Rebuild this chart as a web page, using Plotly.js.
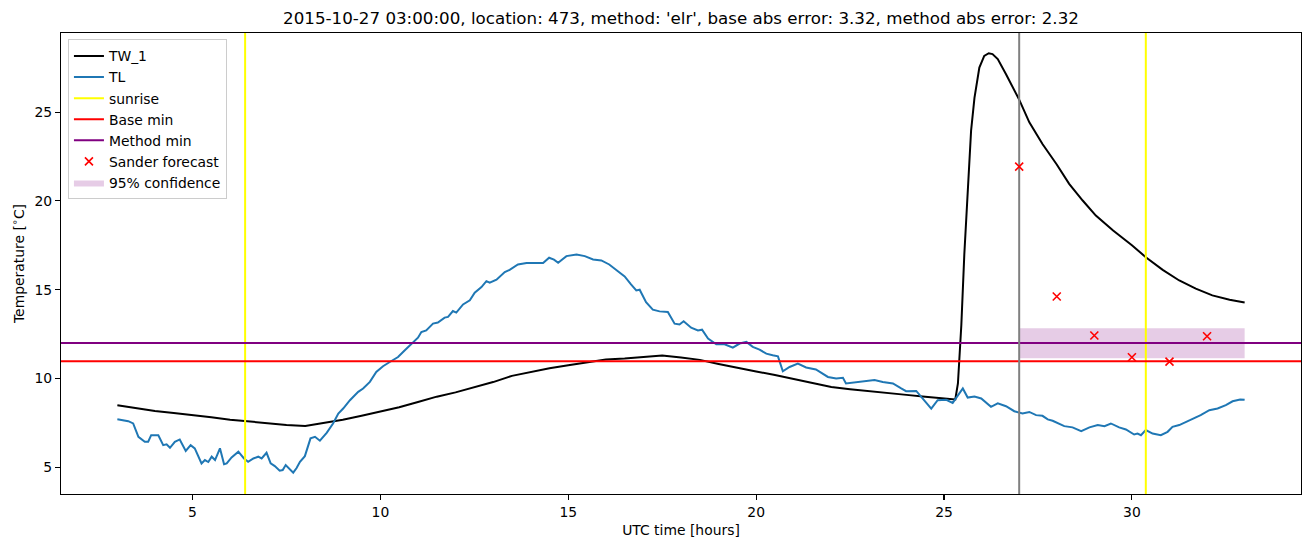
<!DOCTYPE html>
<html>
<head>
<meta charset="utf-8">
<script src="https://cdn.plot.ly/plotly-3.0.1.min.js"></script>
<style>html,body{margin:0;padding:0;background:#fff;}#chart{width:1310px;height:547px;}</style>
</head>
<body>
<div id="chart"></div>
<script>
// ---- data ----
const tw1Hours = [3.0,3.5,4.0,4.5,5.0,5.5,6.0,6.5,7.0,7.5,8.0,8.5,9.0,9.5,10.0,10.5,11.0,11.5,12.0,12.5,13.0,13.5,14.0,14.5,15.0,15.5,16.0,16.5,17.0,17.5,18.0,18.5,19.0,19.5,20.0,20.5,21.0,21.5,22.0,22.5,23.0,23.5,24.0,24.5,25.0,25.3,25.37,25.41,25.46,25.54,25.63,25.72,25.81,25.94,26.07,26.19,26.29,26.43,26.65,27.0,27.27,27.62,28.0,28.33,28.69,29.04,29.5,30.0,30.37,30.82,31.26,31.7,32.14,32.6,33.0];
const tw1Values = [8.5,8.33,8.17,8.06,7.95,7.82,7.68,7.58,7.45,7.39,7.33,7.5,7.68,7.9,8.13,8.38,8.68,8.98,9.22,9.5,9.8,10.15,10.38,10.58,10.75,10.93,11.07,11.13,11.22,11.3,11.18,11.05,10.82,10.63,10.4,10.2,9.98,9.75,9.52,9.4,9.28,9.18,9.08,8.97,8.88,8.82,9.72,11.0,13.0,17.0,20.8,23.95,25.8,27.5,28.16,28.31,28.26,27.98,27.13,25.7,24.42,23.2,22.05,20.96,20.02,19.17,18.33,17.5,16.83,16.12,15.52,15.06,14.68,14.44,14.28];

const tlHours = [3.0,3.29,3.42,3.56,3.73,3.82,3.9,4.09,4.22,4.31,4.4,4.53,4.66,4.82,4.95,5.06,5.24,5.33,5.42,5.51,5.6,5.73,5.84,5.91,6.04,6.22,6.37,6.48,6.62,6.75,6.84,6.97,7.08,7.19,7.32,7.4,7.48,7.59,7.68,7.77,7.86,7.99,8.14,8.26,8.39,8.57,8.74,8.88,9.01,9.19,9.41,9.54,9.72,9.89,10.07,10.25,10.47,10.65,10.83,11.0,11.09,11.22,11.4,11.53,11.71,11.8,11.93,12.02,12.2,12.38,12.51,12.69,12.82,12.91,13.09,13.31,13.44,13.66,13.89,14.11,14.33,14.49,14.62,14.73,14.95,15.22,15.44,15.66,15.88,16.09,16.32,16.5,16.67,16.81,16.9,17.07,17.25,17.43,17.65,17.83,17.96,18.07,18.27,18.45,18.56,18.72,18.94,19.16,19.38,19.56,19.74,19.91,20.09,20.27,20.44,20.58,20.71,20.89,21.11,21.33,21.59,21.77,21.91,22.13,22.31,22.39,22.57,22.84,23.15,23.37,23.64,23.86,23.99,24.26,24.43,24.66,24.83,25.06,25.23,25.5,25.63,25.81,25.99,26.25,26.43,26.65,26.87,27.09,27.27,27.45,27.62,27.76,27.89,28.07,28.2,28.42,28.65,28.87,29.09,29.27,29.44,29.66,29.84,30.06,30.15,30.24,30.37,30.55,30.77,30.95,31.08,31.26,31.44,31.62,31.83,32.06,32.28,32.5,32.68,32.88,33.0];
const tlValues = [7.71,7.6,7.47,6.72,6.44,6.44,6.81,6.81,6.25,6.3,6.1,6.44,6.57,5.92,6.25,6.07,5.22,5.41,5.3,5.6,5.41,6.07,5.18,5.22,5.56,5.88,5.5,5.31,5.5,5.6,5.5,5.82,5.22,5.07,4.81,4.85,5.13,4.89,4.7,4.96,5.31,5.63,6.63,6.72,6.5,6.94,7.47,8.03,8.31,8.78,9.25,9.44,9.81,10.37,10.69,10.93,11.21,11.59,11.97,12.3,12.62,12.71,13.09,13.15,13.43,13.47,13.8,13.71,14.17,14.4,14.83,15.15,15.48,15.39,15.56,15.99,16.12,16.42,16.5,16.5,16.5,16.8,16.69,16.52,16.89,16.98,16.89,16.7,16.65,16.42,16.05,15.75,15.3,14.96,15.0,14.3,13.88,13.78,13.75,13.09,13.04,13.22,12.86,12.71,12.75,12.25,11.93,11.93,11.74,11.97,12.06,11.78,11.63,11.4,11.31,11.25,10.41,10.65,10.84,10.62,10.51,10.28,10.09,10.0,10.04,9.72,9.76,9.81,9.91,9.81,9.72,9.44,9.29,9.3,8.88,8.31,8.78,8.8,8.63,9.44,8.93,8.99,8.88,8.41,8.6,8.44,8.16,8.03,8.12,7.94,7.9,7.7,7.62,7.47,7.32,7.25,7.04,7.25,7.38,7.32,7.47,7.25,7.13,6.85,6.9,6.81,7.1,6.9,6.81,7.0,7.28,7.38,7.56,7.71,7.94,8.22,8.31,8.5,8.72,8.82,8.8];

const sunriseHours = [6.4, 30.37];
const forecastHour = 27.0;
const baseMin = 10.97;
const methodMin = 12.0;
const sanderHours = [27, 28, 29, 30, 31, 32];
const sanderValues = [21.93, 14.62, 12.42, 11.2, 10.95, 12.38];
const confHours = [27, 33];
const confLower = 11.14;
const confUpper = 12.83;

const xTicks = [5, 10, 15, 20, 25, 30];
const yTicks = [5, 10, 15, 20, 25];
const titleText = "2015-10-27 03:00:00, location: 473, method: 'elr', base abs error: 3.32, method abs error: 2.32";

// ---- build ----
const xRange = [1.5, 34.5];
const yRange = [3.5, 29.45];

function vlines(xs) {
  const x = [], y = [];
  xs.forEach((v, i) => { if (i) { x.push(null); y.push(null); } x.push(v, v); y.push(yRange[0], yRange[1]); });
  return {x, y};
}
const sr = vlines(sunriseHours);
const fc = vlines([forecastHour]);

const traces = [
  {x: [confHours[0], confHours[1], confHours[1], confHours[0], confHours[0]],
   y: [confLower, confLower, confUpper, confUpper, confLower],
   type: 'scatter', mode: 'lines', fill: 'toself', fillcolor: 'rgba(128,0,128,0.2)',
   line: {width: 0, color: 'rgba(128,0,128,0)'}, name: '95% confidence', legendrank: 7},
  {x: tw1Hours, y: tw1Values, type: 'scatter', mode: 'lines', name: 'TW_1',
   line: {color: '#000000', width: 2}, legendrank: 1},
  {x: tlHours, y: tlValues, type: 'scatter', mode: 'lines', name: 'TL',
   line: {color: '#1f77b4', width: 2}, legendrank: 2},
  {x: sr.x, y: sr.y, type: 'scatter', mode: 'lines', name: 'sunrise',
   line: {color: '#ffff00', width: 2}, legendrank: 3},
  {x: xRange, y: [baseMin, baseMin], type: 'scatter', mode: 'lines', name: 'Base min',
   line: {color: '#ff0000', width: 2}, legendrank: 4},
  {x: xRange, y: [methodMin, methodMin], type: 'scatter', mode: 'lines', name: 'Method min',
   line: {color: '#800080', width: 2}, legendrank: 5},
  {x: fc.x, y: fc.y, type: 'scatter', mode: 'lines', showlegend: false,
   line: {color: '#808080', width: 2}},
  {x: sanderHours, y: sanderValues, type: 'scatter', mode: 'markers', name: 'Sander forecast',
   marker: {symbol: 'x-thin', size: 8, color: '#ff0000', line: {color: '#ff0000', width: 1.6}}, legendrank: 6}
];

const font = {family: 'DejaVu Sans', size: 13.9, color: '#000'};
const layout = {
  width: 1310, height: 547,
  margin: {l: 61, r: 9, t: 33, b: 53, pad: 0},
  paper_bgcolor: '#fff', plot_bgcolor: '#fff',
  font: font,
  showlegend: true,
  title: {text: titleText, font: {family: 'DejaVu Sans', size: 16.7, color: '#000'},
          x: 0.5, xref: 'paper', xanchor: 'center', y: 1 - 18/547, yref: 'container', yanchor: 'middle'},
  xaxis: {range: xRange, tickvals: xTicks, ticktext: xTicks.map(String), ticks: 'outside', ticklen: 5,
          tickwidth: 1.1, tickcolor: '#000', showline: true, mirror: true, linecolor: '#000', linewidth: 1.1,
          showgrid: false, zeroline: false, tickfont: font,
          title: {text: 'UTC time [hours]', font: font, standoff: 6}},
  yaxis: {range: yRange, tickvals: yTicks, ticktext: yTicks.map(String), ticks: 'outside', ticklen: 5,
          tickwidth: 1.1, tickcolor: '#000', showline: true, mirror: true, linecolor: '#000', linewidth: 1.1,
          showgrid: false, zeroline: false, tickfont: font,
          title: {text: 'Temperature [<sup>∘</sup>C]', font: font, standoff: 6}},
  legend: {x: 0.0056, y: 0.986, xanchor: 'left', yanchor: 'top', bgcolor: 'rgba(255,255,255,0.8)',
           bordercolor: '#cccccc', borderwidth: 1, font: font, itemwidth: 30, traceorder: 'normal'}
};

Plotly.newPlot('chart', traces, layout, {displayModeBar: false, staticPlot: true});
</script>
</body>
</html>
